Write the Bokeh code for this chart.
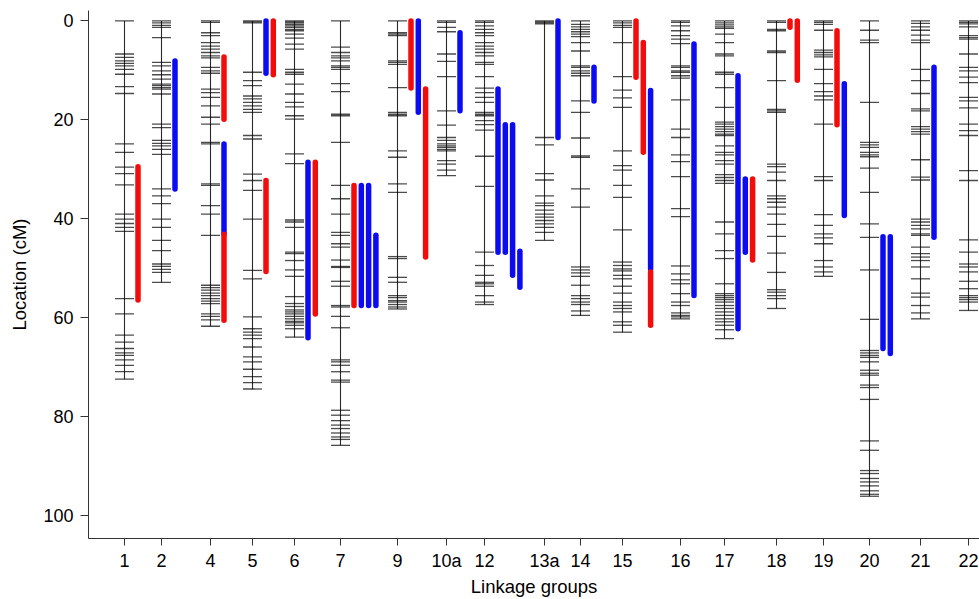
from bokeh.plotting import figure
from bokeh.models import Range1d, FixedTicker, ColumnDataSource
from bokeh.embed import file_html
from bokeh.resources import INLINE

# ---------------- data (cM positions) ----------------
groups = ["1", "2", "4", "5", "6", "7", "9", "10a", "12", "13a", "14",
          "15", "16", "17", "18", "19", "20", "21", "22"]

lg1 = [0.0, 6.7, 7.4, 8.1, 8.6, 9.1, 9.8, 10.8, 13.3, 14.7, 24.9, 26.6, 29.6, 30.9, 33.2,
       39.1, 40.1, 41.0, 41.8, 42.6, 56.2, 59.3, 63.6, 65.0, 66.3, 67.2, 67.7, 68.6, 69.7, 71.0, 72.5]
lg2 = [0.0, 0.4, 0.9, 1.3, 3.4, 8.4, 9.1, 10.1, 10.9, 11.8, 12.8, 13.1, 13.5, 13.8, 14.8, 20.9,
       21.6, 24.2, 24.8, 25.3, 26.0, 27.0, 34.0, 35.4, 37.0, 40.1, 41.8, 44.4, 46.5, 49.2, 49.7,
       50.3, 50.9, 52.9]
lg4 = [0.0, 0.3, 2.4, 3.0, 4.4, 5.1, 5.7, 6.4, 7.1, 7.5, 9.4, 10.1, 10.6, 13.8, 14.5, 15.5, 17.2,
       19.5, 20.9, 24.6, 24.9, 33.0, 33.3, 37.4, 39.1, 43.4, 53.5, 54.0, 54.5, 55.1, 55.6, 56.2,
       56.7, 57.2, 59.3, 59.8, 60.5, 61.8]
lg5 = [0.0, 0.2, 0.4, 10.4, 12.1, 13.1, 15.2, 15.8, 16.5, 17.2, 17.9, 18.5, 23.2, 23.9, 31.0,
       32.3, 34.3, 40.1, 50.5, 52.2, 59.9, 62.3, 63.0, 63.6, 64.3, 66.0, 68.0, 69.0, 70.5, 72.0,
       73.2, 74.5]
lg6 = [0.0, 0.2, 0.4, 0.7, 1.0, 1.3, 1.7, 2.0, 2.7, 3.5, 4.7, 5.7, 9.8, 10.4, 10.8, 12.8, 14.8,
       16.5, 17.4, 19.2, 19.9, 26.9, 28.9, 40.3, 40.7, 41.8, 46.8, 47.1, 48.5, 50.4, 51.7, 55.8,
       57.2, 57.8, 58.5, 58.9, 59.3, 59.8, 60.3, 60.8, 61.1, 61.6, 62.3, 64.0]
lg7 = [0.0, 5.3, 6.4, 7.1, 7.5, 8.1, 9.1, 9.4, 9.8, 12.7, 14.3, 18.9, 19.2, 24.6, 33.3, 36.0,
       39.1, 42.8, 43.4, 45.1, 45.8, 48.4, 49.7, 49.9, 52.7, 53.7, 57.6, 57.9, 59.8, 62.1, 68.6,
       69.0, 69.7, 71.0, 72.7, 73.1, 78.8, 79.8, 80.9, 81.8, 82.5, 83.4, 84.2, 84.7, 85.9]
lg9 = [0.0, 2.4, 2.7, 3.0, 8.1, 8.4, 8.8, 13.5, 18.5, 18.9, 19.2, 26.3, 27.6, 33.0, 34.7, 47.7,
       48.1, 51.9, 52.9, 55.6, 56.0, 56.6, 56.9, 57.4, 57.9, 58.3]
lg10a = [0.0, 0.3, 1.3, 2.2, 6.7, 8.2, 11.3, 18.2, 21.1, 23.6, 24.2, 24.9, 25.3, 25.6, 26.0,
         26.3, 28.3, 29.0, 30.2, 31.3]
lg12 = [0.0, 0.3, 1.0, 1.7, 2.4, 3.0, 4.4, 5.1, 5.7, 6.4, 7.1, 8.4, 8.8, 11.3, 13.6, 14.5, 15.5,
        16.5, 18.5, 18.9, 19.2, 20.2, 21.0, 22.1, 27.4, 33.5, 46.8, 49.5, 51.5, 52.9, 53.2, 53.7,
        55.6, 56.9, 57.4]
lg13a = [0.0, 0.2, 0.4, 0.6, 23.6, 25.1, 30.9, 32.2, 35.4, 36.9, 37.4, 38.3, 39.1, 39.7, 40.4,
         41.1, 41.8, 42.8, 44.4]
lg14 = [0.0, 0.7, 1.2, 1.7, 2.2, 2.7, 3.2, 4.4, 6.1, 9.1, 9.4, 10.1, 10.6, 11.1, 16.2, 18.5,
        23.7, 27.3, 27.6, 34.0, 37.7, 49.8, 50.4, 51.0, 51.7, 53.5, 55.6, 56.2, 56.9, 57.4, 58.7, 59.6]
lg15 = [0.0, 0.4, 0.9, 1.3, 4.4, 11.3, 14.0, 15.6, 17.5, 26.3, 29.3, 30.2, 33.3, 35.7, 42.3,
        48.8, 49.5, 50.2, 50.6, 51.5, 52.2, 53.7, 55.1, 56.9, 57.6, 58.2, 58.9, 60.9, 61.6, 63.0]
lg16 = [0.0, 0.3, 1.0, 2.0, 3.0, 3.7, 4.6, 9.1, 9.4, 10.1, 10.4, 11.1, 11.6, 16.0, 21.9, 23.6,
        27.1, 28.5, 31.5, 38.0, 39.6, 49.6, 51.2, 52.4, 53.2, 55.2, 56.9, 57.6, 59.1, 59.6, 59.9, 60.3]
lg17 = [0.0, 0.4, 0.8, 1.2, 1.5, 2.7, 4.4, 6.7, 7.1, 10.4, 10.8, 13.5, 17.5, 20.5, 20.9, 21.4,
        21.9, 22.4, 22.9, 23.2, 25.3, 26.6, 27.1, 28.3, 29.0, 31.1, 31.7, 32.3, 32.9, 40.7, 43.1,
        46.5, 48.1, 53.2, 55.2, 55.6, 56.0, 56.4, 56.9, 57.6, 58.2, 58.9, 59.6, 60.3, 60.9, 61.6,
        62.5, 64.3]
lg18 = [0.0, 0.3, 1.7, 2.0, 6.1, 6.4, 12.1, 17.9, 18.2, 18.5, 29.0, 29.5, 30.6, 32.3, 35.4, 36.0,
        36.7, 37.7, 39.1, 41.2, 43.6, 47.0, 50.9, 54.4, 54.9, 55.6, 56.2, 58.2]
lg19 = [0.0, 0.3, 0.7, 1.9, 5.9, 6.4, 6.9, 7.3, 9.8, 12.7, 14.3, 15.2, 16.0, 20.9, 31.5, 32.3,
        39.2, 41.4, 43.1, 43.9, 45.1, 48.5, 49.8, 50.8, 51.7]
lg20 = [0.0, 1.9, 3.9, 4.4, 16.5, 24.6, 25.1, 25.6, 26.6, 27.1, 27.5, 29.8, 34.7, 41.1, 43.8,
        50.4, 60.4, 66.7, 67.2, 67.7, 68.1, 69.0, 70.7, 71.3, 71.7, 73.7, 74.2, 76.6, 85.0, 86.9,
        91.0, 91.6, 92.6, 93.3, 94.1, 95.1, 95.8, 96.2]
lg21 = [0.0, 0.5, 1.2, 1.9, 2.9, 3.9, 4.4, 9.8, 12.1, 14.7, 17.8, 18.2, 21.4, 21.9, 22.4, 22.9,
        28.1, 31.6, 32.2, 40.1, 40.7, 41.4, 42.1, 43.1, 43.4, 45.8, 47.1, 47.8, 48.5, 49.8, 52.2,
        55.1, 55.9, 57.6, 59.1, 60.3]
lg22 = [0.0, 0.3, 0.6, 1.2, 3.0, 3.4, 3.7, 6.7, 9.4, 10.1, 11.4, 12.5, 15.5, 16.2, 17.6, 20.9,
        22.2, 23.2, 30.3, 32.3, 44.3, 46.8, 49.2, 49.8, 50.8, 52.7, 54.2, 55.6, 56.0, 56.4, 56.9, 58.6]

markers = [lg1, lg2, lg4, lg5, lg6, lg7, lg9, lg10a, lg12, lg13a, lg14,
           lg15, lg16, lg17, lg18, lg19, lg20, lg21, lg22]

# QTL intervals: group, column beside the group, start (cM), end (cM), trait
qtl_group = ["1", "2", "4", "4", "4", "5", "5", "5", "6", "6",
             "7", "7", "7", "7", "9", "9", "9", "10a",
             "12", "12", "12", "12", "13a", "14",
             "15", "15", "15", "15", "16", "17", "17", "17",
             "18", "18", "19", "19", "20", "20", "21", "22"]
qtl_col = [0, 0, 0, 0, 0, 0, 1, 0, 0, 1,
           0, 1, 2, 3, 0, 1, 2, 0,
           0, 1, 2, 3, 0, 0,
           0, 1, 2, 2, 0, 0, 1, 2,
           0, 1, 0, 1, 0, 1, 0, 0]
qtl_start = [29.5, 8.1, 7.3, 24.9, 43.2, 0.0, 0.0, 32.3, 28.6, 28.6,
             33.3, 33.3, 33.3, 43.4, 0.0, 0.0, 13.8, 2.4,
             13.8, 21.0, 21.0, 46.6, 0.0, 9.4,
             0.0, 4.4, 14.1, 50.8, 4.7, 11.1, 32.0, 32.0,
             0.0, 0.0, 2.0, 12.7, 43.7, 43.7, 9.4, 6.7]
qtl_end = [56.5, 34.0, 19.9, 43.1, 60.6, 10.6, 10.9, 50.7, 64.1, 59.3,
           57.6, 57.6, 57.6, 57.6, 13.6, 18.5, 47.8, 18.2,
           46.8, 46.8, 51.5, 53.9, 23.6, 16.2,
           11.4, 26.6, 50.2, 61.6, 55.6, 62.3, 46.8, 48.4,
           1.3, 12.0, 21.0, 39.4, 66.3, 67.3, 43.8, 29.7]
qtl_trait = ["A", "B", "A", "B", "A", "B", "A", "A", "B", "A",
             "A", "B", "B", "B", "A", "B", "A", "B",
             "B", "B", "B", "B", "B", "B",
             "A", "A", "B", "A", "B", "B", "B", "A",
             "A", "A", "A", "B", "B", "B", "B", "B"]

y_ticks = [0, 20, 40, 60, 80, 100]

# ---------------- layout / style ----------------
group_pos = [36, 73, 122, 164, 206, 252, 309, 358, 396, 456, 492,
             534, 592, 636, 688, 735, 781, 832, 880]
trait_color = {"A": "#f20c0c", "B": "#0c0cf2"}
FONT = "Liberation Sans"
TICK_HALF = 9.5
QTL_OFF0 = 13.5
QTL_STEP = 7.3

pos_of = dict(zip(groups, group_pos))

p = figure(width=979, height=599, output_backend="svg", toolbar_location=None,
           x_range=Range1d(0, 891), y_range=Range1d(104.75, -2.1),
           min_border_left=88, min_border_right=0, min_border_top=10, min_border_bottom=60)
p.outline_line_color = None
p.grid.visible = False
p.background_fill_color = "white"
p.border_fill_color = "white"

# chromosome backbones and marker ticks
cx, cy0, cy1 = [], [], []
mx0, mx1, my = [], [], []
for g, m in zip(groups, markers):
    x = pos_of[g]
    cx.append(x); cy0.append(min(m)); cy1.append(max(m))
    for v in m:
        mx0.append(x - TICK_HALF); mx1.append(x + TICK_HALF); my.append(v)

p.segment(x0=cx, y0=cy0, x1=cx, y1=cy1, line_color="#2a2a2a", line_width=1.1)
p.segment(x0=mx0, y0=my, x1=mx1, y1=my, line_color="black", line_alpha=0.7, line_width=1.3)

# QTL bars
qx = [pos_of[g] + QTL_OFF0 + QTL_STEP * c for g, c in zip(qtl_group, qtl_col)]
qsrc = ColumnDataSource(dict(x=qx, y0=qtl_start, y1=qtl_end,
                             color=[trait_color[t] for t in qtl_trait]))
p.segment(x0="x", y0="y0", x1="x", y1="y1", source=qsrc, line_color="color",
          line_width=5.5, line_cap="round")

# axes
xa = p.xaxis[0]
xa.ticker = FixedTicker(ticks=group_pos)
xa.major_label_overrides = {v: g for v, g in zip(group_pos, groups)}
xa.minor_tick_line_color = None
xa.major_tick_in = 0
xa.major_tick_out = 7
xa.major_label_standoff = 5
xa.axis_label = "Linkage groups"
xa.axis_label_standoff = 2

ya = p.yaxis[0]
ya.ticker = FixedTicker(ticks=y_ticks)
ya.minor_tick_line_color = None
ya.major_tick_in = 0
ya.major_tick_out = 8
ya.major_label_standoff = 7
ya.axis_label = "Location (cM)"
ya.axis_label_standoff = 10

for ax in (xa, ya):
    ax.axis_line_color = "#333333"
    ax.major_tick_line_color = "#333333"
    ax.major_label_text_font = FONT
    ax.major_label_text_font_size = "18px"
    ax.major_label_text_color = "black"
    ax.axis_label_text_font = FONT
    ax.axis_label_text_font_size = "18.5px"
    ax.axis_label_text_font_style = "normal"
    ax.axis_label_text_color = "black"

open("out.html", "w").write(file_html(p, INLINE))
